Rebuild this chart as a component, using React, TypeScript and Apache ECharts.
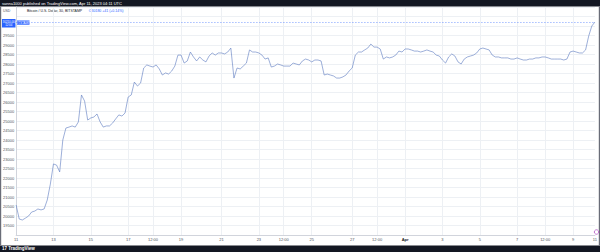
import React, { useEffect, useRef } from "react";
import * as echarts from "echarts";

const prices: number[] = [
  20580, 19840, 19790, 19890, 20000, 20210, 20260, 20370, 20320, 20370,
  20840, 21680, 22740, 22680, 22320, 24000, 24630, 24680, 24740, 24680,
  24950, 26370, 26050, 25050, 25160, 25210, 25370, 24950, 24680, 24740,
  24740, 24890, 25110, 25320, 25260, 25420, 26260, 26370, 27050, 26840,
  27000, 27790, 27950, 27890, 27840, 27950, 27740, 27420, 27530, 27470,
  27630, 27890, 28470, 28470, 28050, 28160, 28630, 28370, 28160, 28370,
  28210, 28110, 28420, 28580, 28470, 28580, 28580, 28530, 28630, 28840,
  27260, 27790, 27740, 27890, 28050, 28740, 28630, 28630, 28580, 28470,
  28260, 28320, 27840, 27890, 28000, 27950, 27890, 27890, 27890, 28050,
  28000, 27950, 28160, 28260, 28210, 28110, 28210, 28210, 28160, 27420,
  27470, 27420, 27370, 27260, 27260, 27320, 27420, 27630, 27790, 28470,
  28630, 28630, 28740, 28840, 29050, 28890, 28890, 28790, 28260, 28370,
  28320, 28370, 28470, 28680, 28630, 28790, 28790, 28740, 28680, 28680,
  28630, 28680, 28740, 28680, 28630, 28470, 28420, 28210, 28050, 28370,
  28530, 28420, 28110, 28000, 28260, 28370, 28420, 28470, 28580, 28790,
  28840, 28790, 28740, 28470, 28370, 28370, 28320, 28320, 28320, 28260,
  28260, 28320, 28260, 28210, 28210, 28260, 28260, 28320, 28320, 28370,
  28370, 28320, 28260, 28260, 28260, 28260, 28210, 28260, 28630, 28680,
  28630, 28580, 28580, 28740, 29470, 30000, 30210,
];

const tickIndex: number[] = [0, 12, 24, 36, 44, 53, 66, 78, 86, 95, 108, 116, 125, 137, 149, 161, 170, 179, 186];
const tickText: string[] = ["11", "13", "15", "17", "12:00", "19", "21", "23", "12:00", "25", "27", "12:00", "Apr", "3", "5", "7", "12:00", "9", "11"];
const gridIndex: number[] = [12, 24, 36, 44, 53, 66, 78, 86, 95, 108, 116, 125, 137, 149, 161, 170, 179];

const yMin = 19000;
const yMax = 31000;
const yStep = 500;

const startTime = Date.UTC(2023, 2, 11, 0, 0);
const stepMs = 4 * 3600 * 1000;
const categories: string[] = prices.map((_, i) => new Date(startTime + i * stepMs).toISOString().slice(0, 16));

const titleText = "sanna1000 published on TradingView.com, Apr 11, 2023 04:11 UTC";
const legendMain = "Bitcoin / U.S. Dollar, 30, BITSTAMP";
const legendValues = "O30180 +41 (+0.14%)";
const lastPrice = prices[prices.length - 1];

const FONT = "Liberation Sans, Arial, sans-serif";

export default function App() {
  const ref = useRef<HTMLDivElement>(null);
  useEffect(() => {
    if (!ref.current) return;
    const chart = echarts.init(ref.current, null, { renderer: "svg" });
    chart.setOption({
      animation: false,
      backgroundColor: "#ffffff",
      textStyle: { fontFamily: FONT },
      grid: { left: 16, right: 2.75, top: 7, bottom: 17 },
      xAxis: {
        type: "category",
        data: categories,
        boundaryGap: false,
        axisLine: { show: true, lineStyle: { color: "#d1d4dc", width: 1 } },
        axisTick: { show: false },
        axisLabel: {
          interval: (idx: number) => tickIndex.includes(idx),
          formatter: (_v: string, idx: number) => {
            const k = tickIndex.indexOf(idx);
            const t = k >= 0 ? tickText[k] : "";
            return t === "Apr" ? "{b|" + t + "}" : t;
          },
          fontSize: 4,
          color: "#50535e",
          margin: 2.5,
          rich: { b: { fontSize: 4, fontWeight: "bold", color: "#131722" } },
        },
        splitLine: {
          show: true,
          interval: (idx: number) => gridIndex.includes(idx),
          lineStyle: { color: "#edf0f4", width: 1 },
        },
      },
      yAxis: {
        type: "value",
        position: "left",
        min: yMin,
        max: yMax,
        interval: yStep,
        axisLine: { show: true, lineStyle: { color: "#d1d4dc", width: 1 } },
        axisTick: { show: false },
        axisLabel: {
          fontSize: 4,
          color: "#50535e",
          margin: 2,
          showMinLabel: false,
          showMaxLabel: false,
          formatter: (v: number) => (Math.abs(v - lastPrice) < 400 ? "" : String(v)),
        },
        splitLine: { show: true, lineStyle: { color: "#edf0f4", width: 1 } },
      },
      series: [
        {
          type: "line",
          data: prices,
          showSymbol: false,
          lineStyle: { color: "#5b79c0", width: 0.6 },
          markLine: {
            symbol: ["none", "none"],
            silent: true,
            label: { show: false },
            lineStyle: { color: "#2962ff", type: [1.5, 1.5], width: 0.6, opacity: 0.7 },
            data: [{ yAxis: lastPrice }],
          },
        },
      ],
      graphic: [
        { type: "rect", shape: { x: 0, y: 0, width: 600, height: 6.5 }, style: { fill: "#131722" } },
        {
          type: "text",
          x: 2,
          y: 3.3,
          style: { text: titleText, fontSize: 4, fill: "#ffffff", verticalAlign: "middle", fontFamily: FONT },
        },
        { type: "rect", shape: { x: 0, y: 245.5, width: 600, height: 7 }, style: { fill: "#131722" } },
        {
          type: "text",
          x: 2,
          y: 248.8,
          style: { text: "17 TradingView", fontSize: 4.5, fontWeight: "bold", fill: "#ffffff", verticalAlign: "middle", fontFamily: FONT },
        },
        { type: "rect", shape: { x: 0, y: 6.5, width: 1.2, height: 239 }, style: { fill: "#6a6d78" } },
        { type: "rect", shape: { x: 598.8, y: 6.5, width: 1.2, height: 239 }, style: { fill: "#6a6d78" } },
        {
          type: "text",
          x: 3,
          y: 10.5,
          style: { text: "USD", fontSize: 3.5, fill: "#50535e", verticalAlign: "middle", fontFamily: FONT },
        },
        {
          type: "text",
          x: 27,
          y: 11,
          style: {
            text: "{a|" + legendMain + "}  {b|" + legendValues + "}",
            verticalAlign: "middle",
            fontFamily: FONT,
            rich: {
              a: { fontSize: 3.5, fill: "#131722" },
              b: { fontSize: 3.5, fill: "#2962ff" },
            },
          },
        },
        { type: "rect", shape: { x: 2, y: 19, width: 13.5, height: 8.5 }, style: { fill: "#2962ff" } },
        {
          type: "text",
          x: 8.7,
          y: 23.2,
          style: { text: "30210.00\n12:04", fontSize: 2.8, lineHeight: 3.6, fill: "#ffffff", align: "center", verticalAlign: "middle", fontFamily: FONT },
        },
        { type: "rect", shape: { x: 16, y: 20.5, width: 13.5, height: 4.2 }, style: { fill: "#2962ff" } },
        {
          type: "text",
          x: 22.7,
          y: 22.6,
          style: { text: "BITSTAMP", fontSize: 3, fill: "#ffffff", align: "center", verticalAlign: "middle", fontFamily: FONT },
        },
        { type: "circle", shape: { cx: 596.5, cy: 232, r: 2.2 }, style: { fill: "#ffffff", stroke: "#9c27b0", lineWidth: 0.6 } },
      ],
    });
    return () => chart.dispose();
  }, []);
  return <div ref={ref} style={{ position: "fixed", left: 0, top: 0, width: 600, height: 252 }} />;
}
